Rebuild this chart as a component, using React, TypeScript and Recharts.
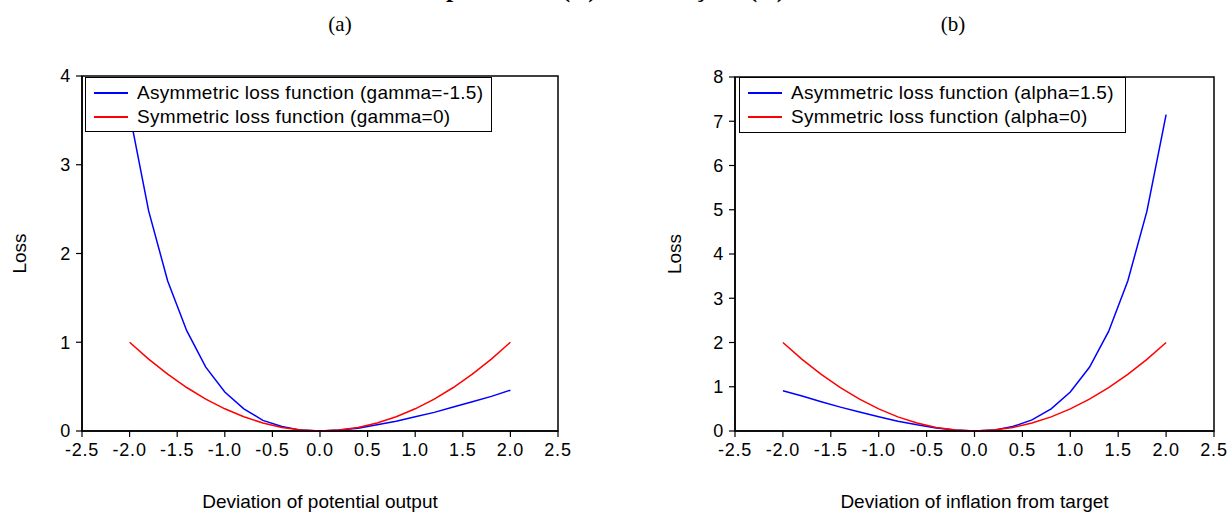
import { LineChart, Line, XAxis, YAxis, Legend, ReferenceArea, Label } from "recharts";

// deviations from 0 where the loss is evaluated
const deviation = [-2.0, -1.8, -1.6, -1.4, -1.2, -1.0, -0.8, -0.6, -0.4, -0.2, 0, 0.2, 0.4, 0.6, 0.8, 1.0, 1.2, 1.4, 1.6, 1.8, 2.0];
const xTicks = [-2.5, -2.0, -1.5, -1.0, -0.5, 0, 0.5, 1.0, 1.5, 2.0, 2.5];

// (a) output gap
const outputAsym = [3.58, 2.48, 1.69, 1.13, 0.72, 0.44, 0.25, 0.12, 0.05, 0.01, 0, 0.01, 0.03, 0.07, 0.11, 0.16, 0.21, 0.27, 0.33, 0.39, 0.46];
const outputSym = [1.0, 0.81, 0.64, 0.49, 0.36, 0.25, 0.16, 0.09, 0.04, 0.01, 0, 0.01, 0.04, 0.09, 0.16, 0.25, 0.36, 0.49, 0.64, 0.81, 1.0];
const outputTicks = [0, 1, 2, 3, 4];

// (b) inflation
const inflationAsym = [0.91, 0.79, 0.66, 0.54, 0.43, 0.32, 0.22, 0.14, 0.07, 0.02, 0, 0.02, 0.1, 0.25, 0.5, 0.88, 1.44, 2.25, 3.39, 4.97, 7.15];
const inflationSym = [2.0, 1.62, 1.28, 0.98, 0.72, 0.5, 0.32, 0.18, 0.08, 0.02, 0, 0.02, 0.08, 0.18, 0.32, 0.5, 0.72, 0.98, 1.28, 1.62, 2.0];
const inflationTicks = [0, 1, 2, 3, 4, 5, 6, 7, 8];

const SANS = "'Liberation Sans', Arial, sans-serif";
const SERIF = "'Liberation Serif', 'Times New Roman', serif";

function LossLegend({ payload }: any) {
  return (
    <div
      style={{
        border: "1.5px solid #000",
        background: "#fff",
        boxSizing: "border-box",
        height: "100%",
        padding: "3px 0 0 8px",
        fontFamily: SANS,
        fontSize: 19,
        letterSpacing: 0.3,
        color: "#000",
      }}
    >
      {(payload || []).map((entry: any) => (
        <div key={entry.value} style={{ display: "flex", alignItems: "center", height: 24, whiteSpace: "nowrap" }}>
          <span style={{ display: "inline-block", width: 34, borderTop: `2px solid ${entry.color}`, marginRight: 9 }} />
          <span>{entry.value}</span>
        </div>
      ))}
    </div>
  );
}

type PanelProps = {
  left: number;
  width: number;
  marginLeft: number;
  marginRight: number;
  marginTop: number;
  asym: number[];
  sym: number[];
  asymName: string;
  symName: string;
  yTicks: number[];
  xTitle: string;
  lossX: number;
  legend: { left: number; top: number; width: number; height: number };
};

function LossPanel(p: PanelProps) {
  const rows = deviation.map((x, i) => ({ x, asym: p.asym[i], sym: p.sym[i] }));
  const yMax = p.yTicks[p.yTicks.length - 1];
  const tickStyle = { fill: "#000", fontSize: 18, fontFamily: SANS, letterSpacing: 0.8 };
  return (
    <div style={{ position: "absolute", left: p.left, top: 0 }}>
      <LineChart
        width={p.width}
        height={514}
        data={rows}
        margin={{ top: p.marginTop, right: p.marginRight, bottom: 0, left: p.marginLeft }}
      >
        <ReferenceArea x1={-2.5} x2={2.5} y1={0} y2={yMax} fill="none" stroke="#000" strokeWidth={1.5} ifOverflow="visible" />
        <XAxis
          dataKey="x"
          type="number"
          domain={[-2.5, 2.5]}
          ticks={xTicks}
          tickFormatter={(v: number) => v.toFixed(1)}
          height={83}
          tickSize={6}
          tickMargin={6}
          tick={tickStyle}
          axisLine={{ stroke: "#000", strokeWidth: 1.5 }}
          tickLine={{ stroke: "#000", strokeWidth: 1.2 }}
        >
          <Label value={p.xTitle} position="insideBottom" offset={6} style={{ fill: "#000", fontSize: 19, fontFamily: SANS }} />
        </XAxis>
        <YAxis
          type="number"
          domain={[0, yMax]}
          ticks={p.yTicks}
          width={40}
          tickSize={6}
          tickMargin={5}
          tick={tickStyle}
          axisLine={{ stroke: "#000", strokeWidth: 1.5 }}
          tickLine={{ stroke: "#000", strokeWidth: 1.2 }}
        >
          <Label
            content={(props: any) => {
              const vb = props.viewBox || { y: p.marginTop, height: 355 };
              const cx = p.lossX;
              const cy = vb.y + vb.height / 2;
              return (
                <text
                  x={cx}
                  y={cy}
                  transform={`rotate(-90 ${cx} ${cy})`}
                  textAnchor="middle"
                  dominantBaseline="central"
                  style={{ fill: "#000", fontSize: 19, fontFamily: SANS }}
                >
                  Loss
                </text>
              );
            }}
          />
        </YAxis>
        <Legend
          layout="horizontal"
          verticalAlign="middle"
          align="center"
          content={<LossLegend />}
          wrapperStyle={{ left: p.legend.left, top: p.legend.top, width: p.legend.width, height: p.legend.height }}
        />
        <Line type="linear" dataKey="asym" name={p.asymName} stroke="#0000ff" strokeWidth={1.5} dot={false} isAnimationActive={false} />
        <Line type="linear" dataKey="sym" name={p.symName} stroke="#ff0000" strokeWidth={1.5} dot={false} isAnimationActive={false} />
      </LineChart>
    </div>
  );
}

export default function App() {
  return (
    <div style={{ position: "absolute", left: 0, top: 0, width: 1231, height: 514, overflow: "hidden", background: "#fff" }}>
      {/* page title, cut off at the top edge as in the source scan */}
      <div
        style={{
          position: "absolute",
          left: 446,
          top: -26,
          fontFamily: SERIF,
          fontWeight: "bold",
          fontSize: 26,
          letterSpacing: 2.5,
          lineHeight: "30px",
          whiteSpace: "nowrap",
        }}
      >
        produto (a) e inflação (b)
      </div>
      <div style={{ position: "absolute", left: 300, width: 80, top: 12, textAlign: "center", fontFamily: SERIF, fontSize: 21, lineHeight: "24px" }}>
        (a)
      </div>
      <div style={{ position: "absolute", left: 913, width: 80, top: 12, textAlign: "center", fontFamily: SERIF, fontSize: 21, lineHeight: "24px" }}>
        (b)
      </div>
      <LossPanel
        left={0}
        width={600}
        marginLeft={42}
        marginRight={42}
        marginTop={76}
        asym={outputAsym}
        sym={outputSym}
        asymName="Asymmetric loss function (gamma=-1.5)"
        symName="Symmetric loss function (gamma=0)"
        yTicks={outputTicks}
        xTitle="Deviation of potential output"
        lossX={19}
        legend={{ left: 85, top: 77, width: 407, height: 55 }}
      />
      <LossPanel
        left={620}
        width={611}
        marginLeft={75}
        marginRight={17}
        marginTop={77}
        asym={inflationAsym}
        sym={inflationSym}
        asymName="Asymmetric loss function (alpha=1.5)"
        symName="Symmetric loss function (alpha=0)"
        yTicks={inflationTicks}
        xTitle="Deviation of inflation from target"
        lossX={54}
        legend={{ left: 119, top: 77, width: 387, height: 56 }}
      />
    </div>
  );
}
